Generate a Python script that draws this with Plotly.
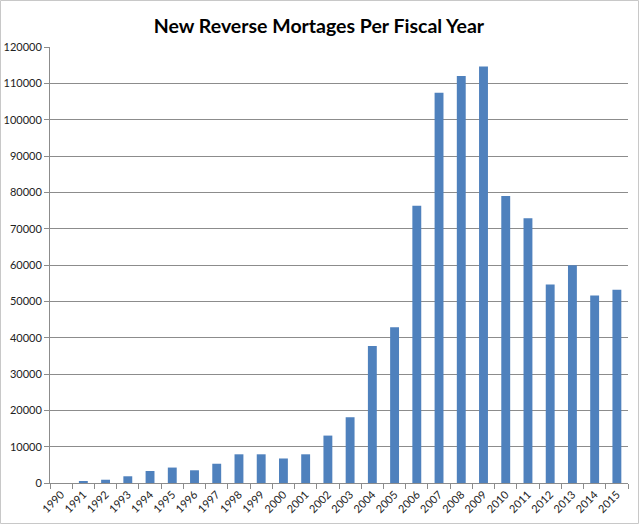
import plotly.graph_objects as go

years = [str(y) for y in range(1990, 2016)]
new_mortgages = [0, 400, 900, 1850, 3300, 4250, 3500, 5300, 7900, 7900, 6750, 7900,
                 13050, 18100, 37700, 42900, 76300, 107400, 112000, 114600, 79000,
                 72900, 54600, 59900, 51600, 53200]
y_ticks = list(range(0, 120001, 10000))

fig = go.Figure(go.Bar(
    x=years, y=new_mortgages,
    marker=dict(color="#4F81BD", line=dict(color="#8EAEDB", width=0)),
))

fig.update_layout(
    width=640, height=524,
    margin=dict(l=50, r=12, t=47, b=41, autoexpand=False),
    paper_bgcolor="white", plot_bgcolor="white",
    bargap=0.6,
    showlegend=False,
    title=dict(text="<b>New Reverse Mortages Per Fiscal Year</b>",
               x=319 / 640, xanchor="center", y=1 - 26.5 / 524, yanchor="middle",
               font=dict(family="Lato", size=19.5, color="black")),
    font=dict(family="Lato", size=11, color="#222222"),
)
fig.update_yaxes(
    range=[0, 120000], tickvals=y_ticks, ticktext=[str(v) for v in y_ticks],
    showgrid=True, gridcolor="#8C8C8C", gridwidth=1,
    showline=True, linecolor="#8C8C8C", linewidth=1,
    ticks="outside", ticklen=5, tickcolor="#8C8C8C",
    zeroline=False, tickfont=dict(size=11), automargin=False,
)
fig.update_xaxes(
    type="category", tickangle=-45,
    showline=True, linecolor="#8C8C8C", linewidth=1,
    ticks="outside", ticklen=5, tickcolor="#8C8C8C", tickson="boundaries",
    showgrid=False, tickfont=dict(size=11), automargin=False,
)
fig.add_shape(type="rect", xref="paper", yref="paper",
              x0=-49.5 / 578, x1=1 + 10.5 / 578, y0=-40.5 / 436, y1=1 + 46.5 / 436,
              line=dict(color="#C8C8C8", width=1), fillcolor="rgba(0,0,0,0)")

fig.write_html("out.html",
               config={"displayModeBar": False},
               post_script="document.body.style.margin='0px';document.body.style.overflow='hidden';")
